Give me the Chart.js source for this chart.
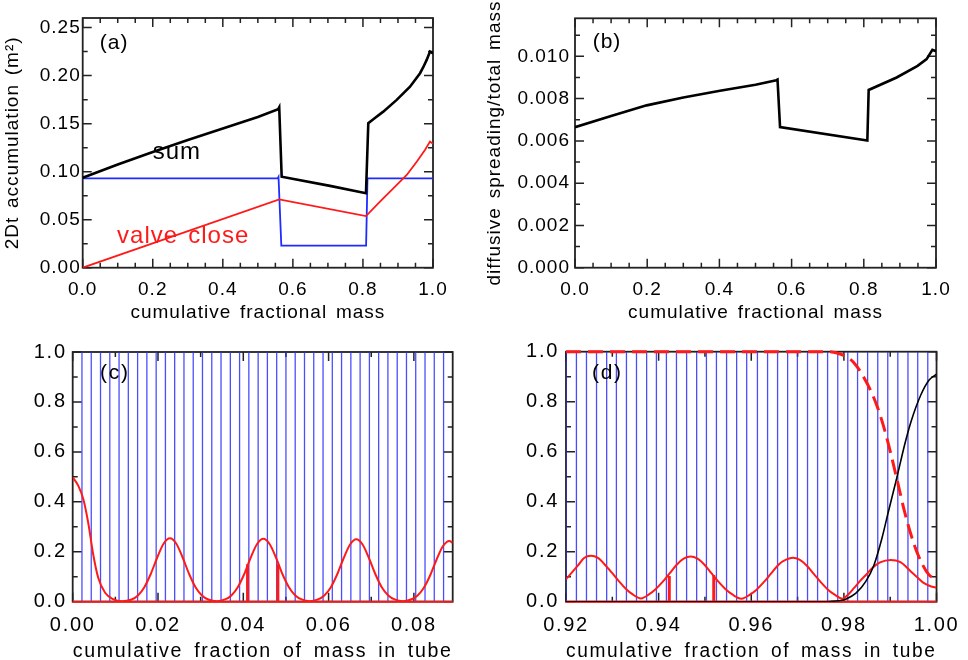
<!DOCTYPE html>
<html>
<head>
<meta charset="utf-8">
<title>Tube mass panels</title>
<script src="https://cdn.jsdelivr.net/npm/chart.js@4.4.1/dist/chart.umd.min.js"></script>
<style>
  body { margin: 0; background: #fff; }
  #wrap { position: relative; width: 968px; height: 660px; background: #fff; }
  #wrap canvas { position: absolute; }
</style>
</head>
<body>
<div id="wrap">
  <canvas id="panelA" width="484" height="330" style="left:0;top:0"></canvas>
  <canvas id="panelB" width="484" height="330" style="left:484px;top:0"></canvas>
  <canvas id="panelC" width="484" height="330" style="left:0;top:330px"></canvas>
  <canvas id="panelD" width="484" height="330" style="left:484px;top:330px"></canvas>
</div>
<script>
// (a) 2Dt accumulation
const sumX = [0, 0.1, 0.2, 0.3, 0.4, 0.5, 0.558, 0.561, 0.568, 0.706, 0.8087, 0.8153, 0.8296, 0.858, 0.8964, 0.9344, 0.963, 0.9725, 0.982, 0.9914, 1.0];
const sumY = [0.0937, 0.1075, 0.1205, 0.133, 0.145, 0.157, 0.165, 0.167, 0.0948, 0.0852, 0.0775, 0.1504, 0.1546, 0.1625, 0.1747, 0.1885, 0.2025, 0.209, 0.2164, 0.225, 0.2233];
const valveX = [0, 0.561, 0.8087, 0.8487, 0.8867, 0.925, 0.9535, 0.977, 0.9914, 1.0];
const valveY = [0.0, 0.0712, 0.0538, 0.0688, 0.0827, 0.0966, 0.1104, 0.1226, 0.1313, 0.1289];
const openX = [0, 0.557, 0.559, 0.567, 0.809, 0.813, 1.0];
const openY = [0.0931, 0.0931, 0.0945, 0.0229, 0.0229, 0.0931, 0.0931];

// (b) diffusive spreading / total mass
const spreadX = [0, 0.1, 0.1985, 0.3, 0.4017, 0.5, 0.5577, 0.561, 0.568, 0.8098, 0.8135, 0.891, 0.949, 0.974, 0.99, 1.0];
const spreadY = [0.00665, 0.00718, 0.00768, 0.00805, 0.00837, 0.00866, 0.00887, 0.0089, 0.00665, 0.00602, 0.00841, 0.009, 0.00955, 0.00987, 0.01031, 0.01024];

// (c) start of tube
const cEdges = [0.00217, 0.00435, 0.00652, 0.0087, 0.01087, 0.01304, 0.01522, 0.01739, 0.01957, 0.02174,
  0.02391, 0.02609, 0.02826, 0.03043, 0.03261, 0.03478, 0.03696, 0.03913, 0.0413, 0.04348,
  0.04565, 0.04783, 0.05, 0.05217, 0.05435, 0.05652, 0.0587, 0.06087, 0.06304, 0.06522,
  0.06739, 0.06957, 0.07174, 0.07391, 0.07609, 0.07826, 0.08043, 0.08261, 0.08478, 0.08696];
const cRedX = [0, 0.0013, 0.0025, 0.0037, 0.0048, 0.006, 0.0076, 0.0095, 0.0115,
  0.0138, 0.0153, 0.0168, 0.0183, 0.0198, 0.0213, 0.0228, 0.0243, 0.0258, 0.0273, 0.0288, 0.0303, 0.0318, 0.0338,
  0.0357, 0.0372, 0.0387, 0.0402, 0.0417, 0.0432, 0.0447, 0.0462, 0.0477, 0.0492, 0.0507, 0.0522, 0.0537, 0.0556,
  0.0575, 0.059, 0.0605, 0.062, 0.0635, 0.065, 0.0665, 0.068, 0.0695, 0.071, 0.0725, 0.074, 0.0755, 0.0774,
  0.0793, 0.0808, 0.0823, 0.0838, 0.0853, 0.0868, 0.0883, 0.0891];
const cRedY = [0.498, 0.465, 0.41, 0.31, 0.19, 0.095, 0.036, 0.01, 0.002,
  0.009, 0.025, 0.058, 0.111, 0.176, 0.232, 0.254, 0.232, 0.176, 0.111, 0.058, 0.025, 0.009, 0.002,
  0.009, 0.025, 0.058, 0.11, 0.175, 0.23, 0.252, 0.23, 0.175, 0.11, 0.058, 0.025, 0.009, 0.002,
  0.009, 0.025, 0.057, 0.109, 0.173, 0.228, 0.25, 0.228, 0.173, 0.109, 0.057, 0.025, 0.009, 0.002,
  0.009, 0.024, 0.055, 0.105, 0.168, 0.222, 0.243, 0.236];
const cMarkX = [0.041, 0.0481];
const cMarkY = [0.15, 0.15];
const cZeroX = [0, 0.0891];

// (d) end of tube
const dEdges = [0.92, 0.92225, 0.92442, 0.92659, 0.92878, 0.93088, 0.93305, 0.93522, 0.93741, 0.93952,
  0.94168, 0.94385, 0.94604, 0.94821, 0.95032, 0.95248, 0.95467, 0.95684, 0.95901, 0.96133,
  0.96352, 0.96568, 0.96785, 0.96996, 0.97215, 0.97432, 0.97648, 0.97867, 0.98084, 0.98295,
  0.98512, 0.98731, 0.98947, 0.99164, 0.99383, 0.99594, 0.99811];
const dRedX = [0.92, 0.9225, 0.9239, 0.9254, 0.9269, 0.9284, 0.9299, 0.9314, 0.9329, 0.9344, 0.9362,
  0.9379, 0.9394, 0.9409, 0.9424, 0.9439, 0.9454, 0.9469, 0.9484, 0.9499, 0.9514, 0.9529, 0.9544, 0.9559, 0.9579,
  0.9597, 0.9612, 0.9627, 0.9642, 0.966, 0.9675, 0.969, 0.9705, 0.972, 0.9735, 0.975, 0.9765, 0.978, 0.9797,
  0.981, 0.9822, 0.9835, 0.9848, 0.9862, 0.9878, 0.9901, 0.9922, 0.9945, 0.996, 0.9973, 0.9987, 1.0];
const dRedY = [0.09, 0.143, 0.175, 0.184, 0.175, 0.148, 0.116, 0.082, 0.052, 0.029, 0.013,
  0.029, 0.051, 0.08, 0.114, 0.148, 0.172, 0.181, 0.172, 0.148, 0.114, 0.08, 0.051, 0.029, 0.012,
  0.028, 0.049, 0.078, 0.111, 0.15, 0.168, 0.176, 0.167, 0.144, 0.111, 0.078, 0.049, 0.028, 0.012,
  0.03, 0.055, 0.083, 0.108, 0.136, 0.157, 0.167, 0.158, 0.12, 0.095, 0.074, 0.062, 0.056];
const dDashX = [0.92, 0.976, 0.9785, 0.9805, 0.9822, 0.984, 0.9868, 0.9889, 0.9914, 0.9931, 0.9952, 0.997, 0.9984, 1.0];
const dDashY = [1.0, 1.0, 0.995, 0.98, 0.955, 0.907, 0.8, 0.68, 0.494, 0.36, 0.227, 0.147, 0.107, 0.09];
const dBlackX = [0.92, 0.975, 0.977, 0.979, 0.9805, 0.9826, 0.9847, 0.9865, 0.9882, 0.9896, 0.9914, 0.9931, 0.9945, 0.9966, 0.9984, 1.0];
const dBlackY = [0, 0, 0.001, 0.004, 0.011, 0.034, 0.08, 0.147, 0.253, 0.36, 0.494, 0.627, 0.721, 0.827, 0.887, 0.91];
const dMarkX = [0.9423, 0.9519];
const dMarkY = [0.103, 0.107];
const dZeroX = [0.92, 1.0];

const FONT = "'Liberation Sans', Arial, Helvetica, sans-serif";
const BLUE = 'rgba(45,45,255,0.85)';
const RED = '#ff1a1a';

// text written inside the panels, placed in data units
const panelText = {
  panelA: [
    { text: '(a)', x: 0.049, y: 0.234, size: 21, color: '#000' },
    { text: 'sum', x: 0.2, y: 0.1198, size: 24, color: '#000' },
    { text: 'valve close', x: 0.098, y: 0.0323, size: 24, color: RED }
  ],
  panelB: [{ text: '(b)', x: 0.049, y: 0.01068, size: 21, color: '#000' }],
  panelC: [{ text: '(c)', x: 0.0064, y: 0.914, size: 21, color: '#000' }],
  panelD: [{ text: '(d)', x: 0.92562, y: 0.914, size: 21, color: '#000' }]
};

function pts(xs, ys) {
  return xs.map((x, i) => ({ x: x, y: ys[i] }));
}

// vertical segments from 0 up to a top value, broken by gaps
function sticks(xs, tops) {
  const out = [];
  xs.forEach((x, i) => { out.push({ x: x, y: 0 }, { x: x, y: tops[i] }, { x: x, y: null }); });
  return out;
}

function line(data, color, width, extra) {
  return Object.assign({ data: data, borderColor: color, borderWidth: width, pointRadius: 0, fill: false, tension: 0 }, extra || {});
}

function axis(o) {
  return {
    type: 'linear',
    min: o.min,
    max: o.max,
    grid: { display: false, drawTicks: false },
    border: { display: false },
    ticks: {
      stepSize: o.step,
      includeBounds: false,
      autoSkip: false,
      maxRotation: 0,
      padding: o.pad,
      color: '#000',
      font: { family: FONT, size: o.size },
      callback: v => Number(v).toFixed(o.dec)
    },
    title: o.title
      ? { display: true, text: o.title, color: '#000', font: { family: FONT, size: o.size, lineHeight: o.lh || 1 }, padding: o.tpad }
      : { display: false },
    afterFit: s => {
      if (o.w != null) s.width = o.w;
      if (o.h != null) s.height = o.h;
    }
  };
}

// box with inward ticks on all four sides, the way IDL draws it
const idlFrame = {
  id: 'idlFrame',
  beforeDatasetsDraw(chart, args, opts) {
    const ctx = chart.ctx;
    const a = chart.chartArea;
    const xs = chart.scales.x;
    const ys = chart.scales.y;
    ctx.save();
    ctx.strokeStyle = '#222';
    ctx.lineWidth = 1.8;
    ctx.strokeRect(a.left, a.top, a.right - a.left, a.bottom - a.top);
    ctx.lineWidth = 1.5;
    ctx.beginPath();
    const tick = (scale, value, len) => {
      const p = scale.getPixelForValue(value);
      if (scale.isHorizontal()) {
        ctx.moveTo(p, a.bottom); ctx.lineTo(p, a.bottom - len);
        ctx.moveTo(p, a.top); ctx.lineTo(p, a.top + len);
      } else {
        ctx.moveTo(a.left, p); ctx.lineTo(a.left + len, p);
        ctx.moveTo(a.right, p); ctx.lineTo(a.right - len, p);
      }
    };
    const minor = (scale, step) => {
      const first = Math.ceil(scale.min / step - 1e-6);
      const last = Math.floor(scale.max / step + 1e-6);
      for (let n = first; n <= last; n++) tick(scale, n * step, 5);
    };
    minor(xs, opts.minorX);
    minor(ys, opts.minorY);
    xs.ticks.forEach(t => tick(xs, t.value, 9));
    ys.ticks.forEach(t => tick(ys, t.value, 9));
    ctx.stroke();
    ctx.restore();
  }
};

const spacing = {
  id: 'spacing',
  beforeDraw(chart, args, opts) {
    chart.ctx.letterSpacing = opts.letter || '0px';
    chart.ctx.wordSpacing = opts.word || '0px';
  }
};

const labels = {
  id: 'labels',
  afterDatasetsDraw(chart) {
    const items = panelText[chart.canvas.id] || [];
    const ctx = chart.ctx;
    ctx.save();
    items.forEach(t => {
      ctx.font = t.size + 'px ' + FONT;
      ctx.fillStyle = t.color;
      ctx.textAlign = 'left';
      ctx.textBaseline = 'middle';
      ctx.fillText(t.text, chart.scales.x.getPixelForValue(t.x), chart.scales.y.getPixelForValue(t.y));
    });
    ctx.restore();
  }
};

Chart.register(idlFrame, spacing, labels);

function panel(id, datasets, xo, yo, pad, frame, sp) {
  return new Chart(document.getElementById(id), {
    type: 'line',
    data: { datasets: datasets },
    options: {
      responsive: false,
      animation: false,
      events: [],
      layout: { padding: pad },
      elements: { point: { radius: 0 } },
      plugins: {
        legend: { display: false },
        tooltip: { enabled: false },
        idlFrame: frame,
        spacing: sp
      },
      scales: { x: axis(xo), y: axis(yo) }
    }
  });
}

const topSpacing = { letter: '1px', word: '2.5px' };
const lowSpacing = { letter: '1.7px', word: '4px' };

panel('panelA', [
  line(pts(sumX, sumY), '#000', 2.6),
  line(pts(valveX, valveY), RED, 1.8),
  line(pts(openX, openY), '#1f2bff', 1.8)
],
  { min: 0, max: 1, step: 0.2, dec: 1, size: 19, pad: 11, h: 62.3, title: 'cumulative fractional mass', tpad: { top: 0, bottom: 8 } },
  { min: 0, max: 0.26, step: 0.05, dec: 2, size: 19, pad: 2, w: 82.7, title: '2Dt accumulation (m\u00b2)', tpad: { top: 3.5, bottom: 0 } },
  { left: 0, top: 18, right: 51, bottom: 0 },
  { minorX: 0.05, minorY: 0.025 }, topSpacing);

panel('panelB', [
  line(pts(spreadX, spreadY), '#000', 2.6)
],
  { min: 0, max: 1, step: 0.2, dec: 1, size: 19, pad: 11, h: 62.3, title: 'cumulative fractional mass', tpad: { top: 0, bottom: 8 } },
  { min: 0, max: 0.0118, step: 0.002, dec: 3, size: 19, pad: 5, w: 91, title: 'diffusive spreading/total mass', tpad: { top: 1, bottom: 0 } },
  { left: 0, top: 18.3, right: 32, bottom: 0 },
  { minorX: 0.05, minorY: 0.001 }, topSpacing);

panel('panelC', [
  line(pts(cRedX, cRedY), RED, 2, { cubicInterpolationMode: 'monotone' }),
  line(sticks(cMarkX, cMarkY), RED, 3),
  line(pts(cZeroX, [0, 0]), 'rgba(255,40,40,0.8)', 2.4, { clip: false }),
  line(sticks(cEdges, cEdges.map(() => 1)), BLUE, 1.3)
],
  { min: 0, max: 0.0891, step: 0.02, dec: 2, size: 20, pad: 12, h: 58.3, title: 'cumulative fraction of mass in tube', lh: 0.83, tpad: { top: 0, bottom: 0 } },
  { min: 0, max: 1, step: 0.2, dec: 1, size: 20, pad: 6, w: 72.7 },
  { left: 0, top: 22, right: 31.3, bottom: 0 },
  { minorX: 0.01, minorY: 0.1 }, lowSpacing);

panel('panelD', [
  line(pts(dDashX, dDashY), RED, 3, { borderDash: [15, 7], cubicInterpolationMode: 'monotone', clip: false }),
  line(pts(dBlackX, dBlackY), '#000', 1.6, { cubicInterpolationMode: 'monotone' }),
  line(pts(dRedX, dRedY), RED, 2, { cubicInterpolationMode: 'monotone' }),
  line(sticks(dMarkX, dMarkY), RED, 3),
  line(pts(dZeroX, [0, 0]), 'rgba(255,40,40,0.8)', 2.4, { clip: false }),
  line(sticks(dEdges, dEdges.map(() => 1)), BLUE, 1.3)
],
  { min: 0.92, max: 1, step: 0.02, dec: 2, size: 20, pad: 12, h: 58.3, title: 'cumulative fraction of mass in tube', lh: 0.83, tpad: { top: 0, bottom: 0 } },
  { min: 0, max: 1, step: 0.2, dec: 1, size: 20, pad: 7, w: 82 },
  { left: 0, top: 21.7, right: 22.5, bottom: 0 },
  { minorX: 0.01, minorY: 0.1 }, lowSpacing);
</script>
</body>
</html>
